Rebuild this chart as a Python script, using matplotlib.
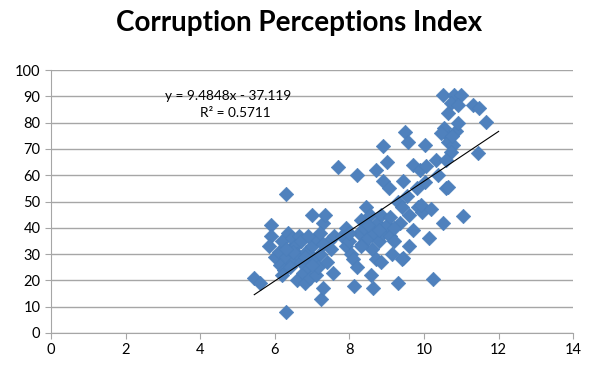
import matplotlib.pyplot as plt
import numpy as np

plt.rcParams['font.family'] = ['Lato', 'DejaVu Sans']

title = "Corruption Perceptions Index"

# left cluster
x_left = [5.45, 5.6, 5.9, 5.9, 5.85, 6.3, 6.3, 6.0, 6.1, 6.15, 6.2, 6.25, 6.3, 6.35,
          6.4, 6.45, 6.5, 6.55, 6.6, 6.6, 6.65, 6.7, 6.75, 6.8, 6.85, 6.9, 6.95, 7.0,
          7.0, 7.05, 7.1, 7.1, 7.15, 7.2, 7.25, 7.3, 7.3, 7.35, 7.4, 7.45, 7.5, 7.55,
          7.6, 6.2, 6.4, 6.7, 6.9, 7.2, 6.5, 6.3, 6.8, 7.0, 7.3]
y_left = [21, 19, 41, 37, 33, 8, 53, 29, 31, 26, 35, 24, 29, 38,
          32, 36, 27, 33, 30, 20, 37, 35, 23, 19, 31, 25, 21, 45,
          33, 28, 36, 22, 25, 30, 13, 17, 42, 45, 27, 35, 32, 23,
          37, 22, 25, 27, 37, 38, 31, 32, 29, 26, 34]

# middle cluster
x_mid = [7.7, 7.8, 7.9, 7.9, 8.0, 8.05, 8.1, 8.12, 8.2, 8.2, 8.25, 8.3, 8.35, 8.4,
         8.45, 8.5, 8.55, 8.6, 8.58, 8.62, 8.65, 8.7, 8.7, 8.75, 8.8, 8.85, 8.9, 8.9,
         8.9, 8.84, 9.0, 9.0, 9.05, 9.1, 9.1, 9.15, 9.2, 9.29, 9.3, 9.43, 9.35, 9.4,
         9.4, 9.45, 9.5, 9.56, 9.55, 9.6, 9.6, 9.7, 9.7, 9.8, 9.85, 9.9, 9.95, 10.03,
         10.03, 9.92, 10.13, 10.37, 10.23, 10.2, 10.32, 10.5, 10.6, 8.5, 8.8, 9.2,
         8.3, 8.0, 10.05, 10.64]
y_mid = [63, 37, 40, 33, 35, 30, 28, 18, 60, 25, 38, 43, 34, 40,
         48, 36, 45, 32, 22, 17, 38, 28, 62, 42, 35, 45, 71, 58,
         38, 27, 65, 41, 55, 37, 44, 30, 35, 19, 50, 28.5, 42, 48,
         28, 58, 76.5, 72.7, 52, 45, 33, 64, 39, 55, 48, 62, 46, 71.5,
         57.5, 48.7, 36, 60, 20.5, 47, 66, 42, 55, 41, 39, 40,
         33, 38, 63.5, 55.7]

# top cluster
x_top = [10.5, 10.8, 11.0, 10.73, 10.9, 11.3, 11.48, 11.67, 10.64, 10.54, 10.67,
         10.64, 10.77, 10.73, 11.44, 11.04, 10.45, 10.85, 10.9, 10.6, 10.75]
y_top = [90.5, 90.5, 90.5, 87.4, 86.7, 86.7, 85.5, 80.4, 83.6, 78, 74.5,
         72.7, 71.5, 69, 68.6, 44.5, 76, 77, 80, 66, 75]

x = np.array(x_left + x_mid + x_top)
y = np.array(y_left + y_mid + y_top)

slope = 9.4848
intercept = -37.119
r2 = 0.5711
trend_x = np.array([5.45, 12.0])

fig = plt.figure(figsize=(5.99, 3.75), dpi=100)
ax = fig.add_axes([0.085, 0.112, 0.872, 0.701])

ax.scatter(x, y, marker='D', s=55, color='#4F81BD', edgecolors='#4A7EBB',
           linewidths=0.4, zorder=3)
ax.plot(trend_x, slope * trend_x + intercept, color='black', lw=0.8, zorder=4)

ax.set_xlim(0, 14)
ax.set_ylim(0, 100)
ax.set_xticks(range(0, 15, 2))
ax.set_yticks(range(0, 101, 10))
ax.yaxis.grid(True, color='#A6A6A6', lw=1.0)
ax.set_axisbelow(True)
for s in ['top', 'right']:
    ax.spines[s].set_visible(False)
for s in ['left', 'bottom']:
    ax.spines[s].set_color('#A6A6A6')
ax.tick_params(colors='#A6A6A6', labelcolor='black', labelsize=10.5, length=4,
               direction='out')

ax.text(4.76, 90, f"y = {slope}x - {abs(intercept)}", fontsize=9.8,
        ha='center', va='center', zorder=5)
ax.text(4.95, 83.7, f"R² = {r2}", fontsize=9.8, ha='center', va='center', zorder=5)

fig.suptitle(title, fontsize=20, fontweight='bold', y=0.94, va='center')

fig.savefig('out.png', dpi=100)
